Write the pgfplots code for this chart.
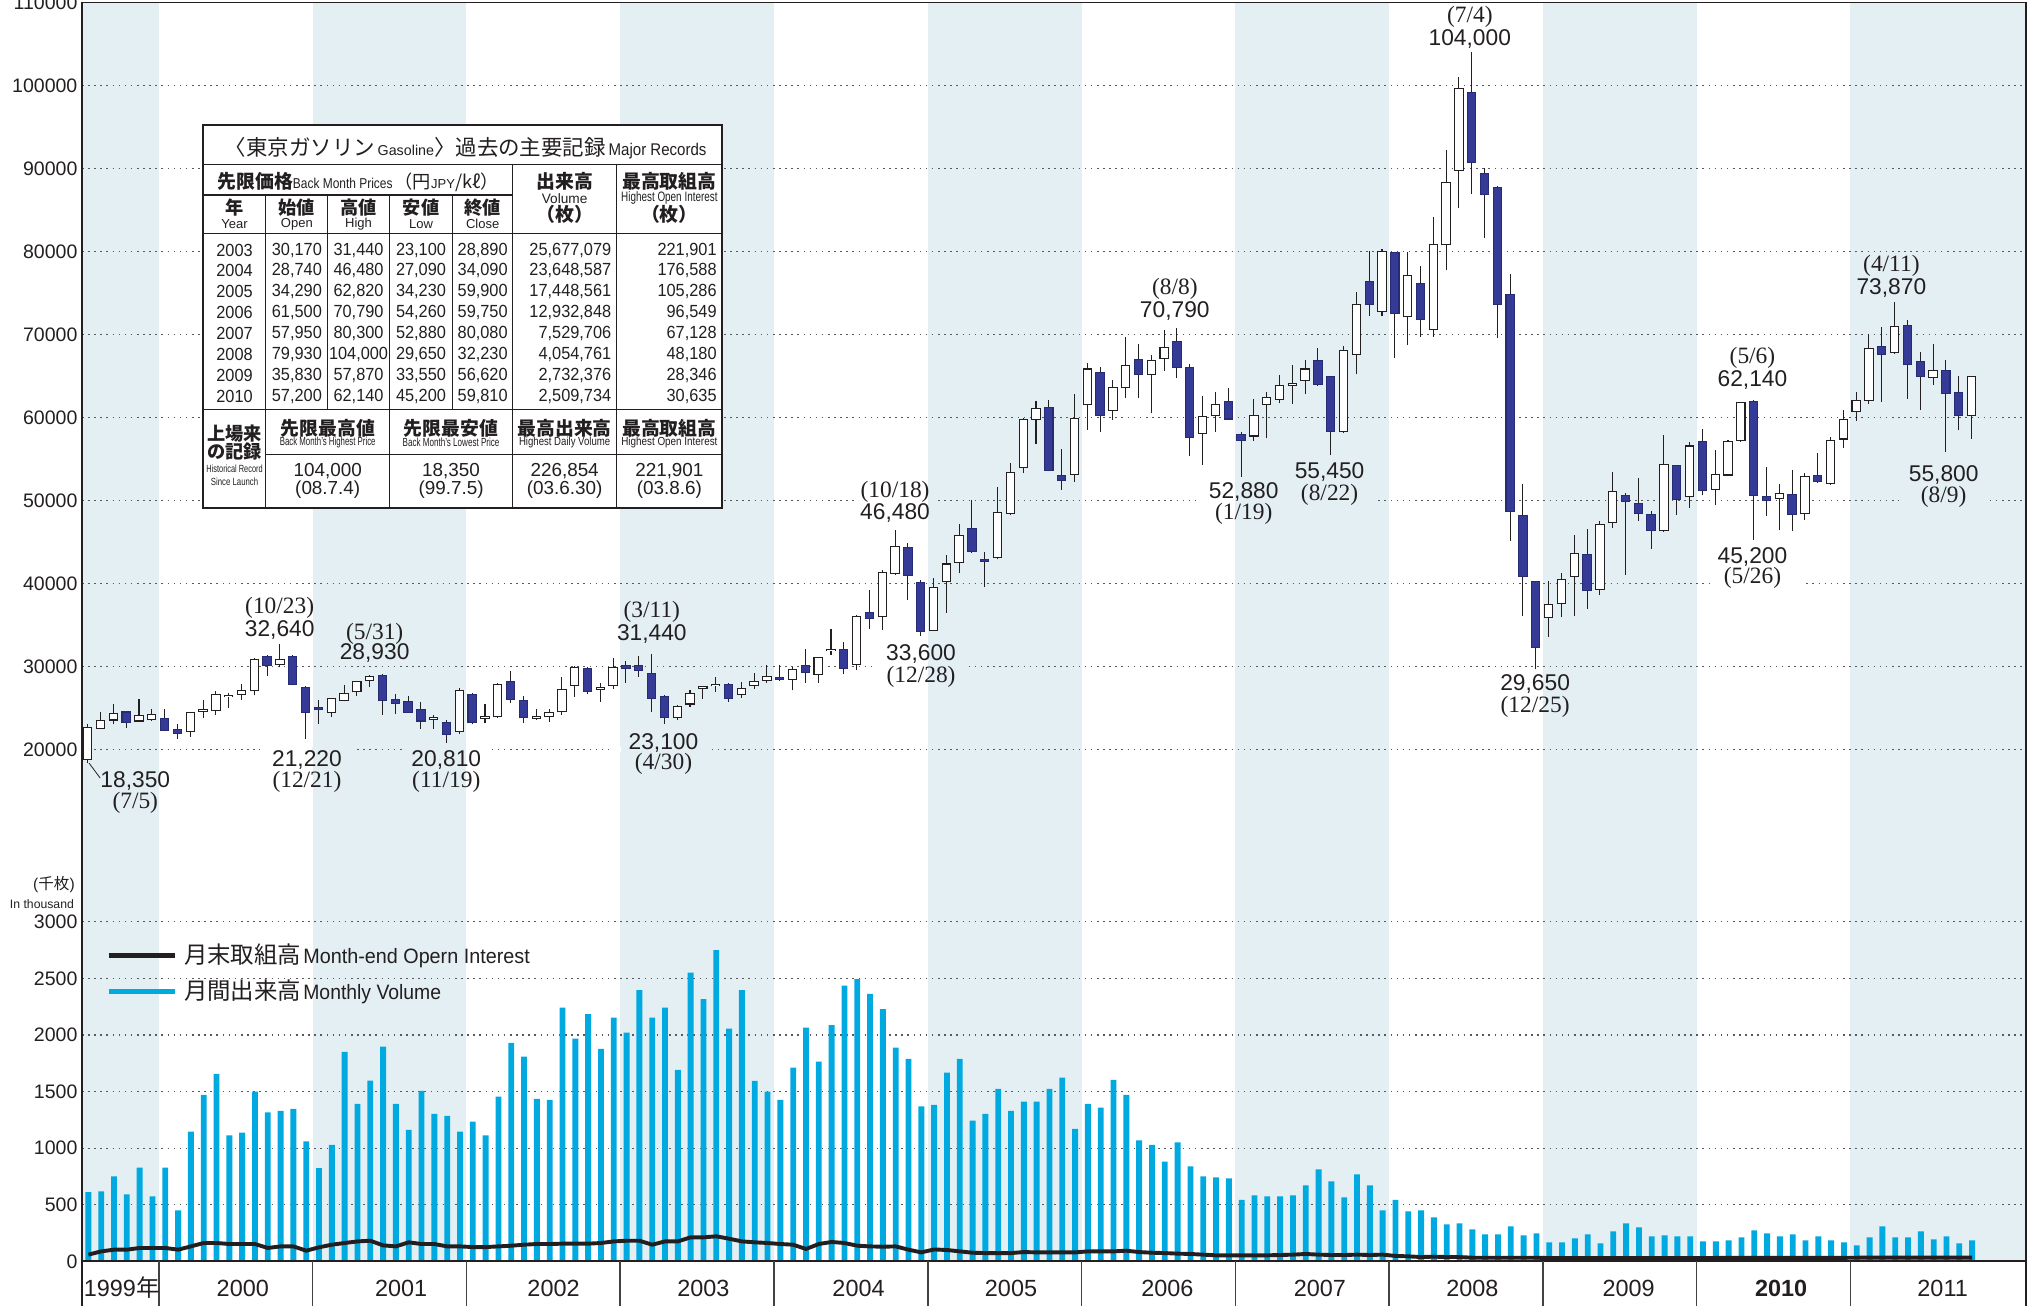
\documentclass[border=0pt]{standalone}
\usepackage{fontspec}
\setmainfont{Liberation Sans}
\newfontfamily\jp{Noto Sans CJK JP}
\newfontfamily\dserif{Liberation Serif}
\usepackage{graphicx}
\usepackage{pgfplots}
\pgfplotsset{compat=1.18}
\usepackage{pgfplotstable}

\definecolor{band}{HTML}{E3EFF3}
\definecolor{candleblue}{HTML}{343A96}
\definecolor{candleedge}{HTML}{262C74}
\definecolor{volcyan}{HTML}{00A9E0}
\definecolor{ink}{HTML}{231F20}

\newcommand{\fs}[1]{\fontsize{#1}{#1}\selectfont}
\newcommand{\sx}[2]{\scalebox{#1}[1]{#2}}

% monthly candles, m = months since Jul 1999
\pgfplotstableread{
m o h l c
0 18700 23100 18350 22750
1 22450 24550 22400 23550
2 23470 25480 23020 24430
4 23350 26050 23270 24150
5 23550 24840 23470 24230
8 22140 24500 21530 24470
9 24500 25970 23750 24850
10 24560 27060 24150 26650
11 26250 26770 24960 26600
12 26570 27860 25890 27140
13 26970 31000 26490 30930
15 30120 32640 29880 30930
19 24430 26200 23950 26170
20 25850 27780 25770 26770
21 26900 28200 26370 28190
22 28200 28930 27500 28850
27 23500 24150 22460 23850
29 22140 27400 21900 27140
31 23650 25520 23120 24000
32 23840 28000 23720 27920
35 23650 24920 23520 24000
36 23840 24920 23320 24520
37 24440 28720 24120 27240
38 27600 30000 26320 29920
40 27200 28000 25720 27520
41 27600 31040 27320 29920
46 23800 25300 23500 25240
47 25400 27120 25120 26840
48 27300 27650 26120 27650
49 27600 28720 26920 27920
51 26520 28120 26240 27400
52 27600 29200 27320 28240
53 28240 30120 28000 28890
55 28320 29920 27090 29640
57 29000 31150 28000 31120
58 31800 34520 31320 32150
60 30200 36200 29600 36120
62 35920 41600 34400 41400
63 41120 46480 41000 44480
66 34290 40600 34230 39520
67 40120 43480 36480 42400
68 42480 47200 41200 45800
71 43000 51600 42900 48600
72 48400 54500 48300 53400
73 53900 59900 53300 59800
74 59700 62000 56800 61100
77 53100 62820 52200 59900
78 61500 66600 58500 65900
80 60760 64500 59700 63700
81 63500 69700 62300 66300
83 65100 67500 60500 66900
84 67050 70590 65640 68500
87 57990 62620 54260 60170
88 60170 63040 58200 61630
91 57700 62260 57200 60330
92 61500 63040 57470 62420
93 62150 65120 61730 63920
94 63800 66270 61630 64150
95 64340 66940 62780 65900
98 58200 68610 58100 68090
99 67570 75110 65220 73710
101 72670 80300 72250 80080
103 72150 79950 68760 77200
105 70590 84120 69700 80890
106 80740 92190 77720 88390
107 89740 101040 85270 99740
114 35830 40240 33550 37530
115 37520 41260 35910 40570
116 40730 45880 36030 43670
118 39250 47490 38640 47210
119 47290 53440 46680 51110
123 46280 57870 46200 54400
125 50380 57050 49100 56620
127 51310 56130 49420 53200
128 53000 57340 52900 57140
129 57140 61900 57100 61840
132 50180 52030 46480 50900
134 48370 53320 47690 52920
136 51990 57660 51900 57260
137 57340 60950 56330 59810
138 60670 63080 59590 62080
139 61990 70010 61670 68410
141 67770 73870 67700 70980
144 64800 68890 63960 65760
147 60150 64960 57460 64960
}\up

\pgfplotstableread{
m o h l c
3 24560 24600 22540 23220
6 23750 24840 22200 22220
7 22460 23060 21250 21850
14 31210 31410 28790 30000
16 31290 31410 27700 27780
17 27500 27580 21220 24430
18 25080 25970 23020 24680
23 28990 29050 24150 25770
24 26050 26650 24270 25480
25 25770 26370 24400 24430
26 24840 25690 22460 23350
28 23350 23550 20810 21730
30 26720 26800 23000 23120
33 28200 29400 25600 25920
34 25920 26440 23120 23720
39 29840 29900 26720 26920
42 30170 30600 28000 29640
43 30120 31200 28720 29400
44 29200 31440 24520 26120
45 26440 26500 23100 23720
50 27920 28000 25720 26120
54 28740 30120 28240 28300
56 30120 32040 28000 29240
59 32120 32880 29120 29680
61 36600 39200 34480 35680
64 44400 44880 38000 40920
65 40200 40400 33600 34090
69 46680 50000 43700 43800
70 42900 43800 39600 42550
75 61300 62080 53500 53600
76 53100 56200 51300 52300
79 65500 66080 58200 60160
82 67100 68800 62300 65100
85 69180 70790 64750 66000
86 66050 66420 55330 57470
89 62000 63560 59700 59750
90 57950 58300 52880 57200
96 66940 68350 63800 63920
97 64960 65000 55450 58200
100 76470 80060 72250 73550
102 79930 80000 67200 72410
104 76210 78290 69700 71780
108 99220 104000 86990 90630
109 89430 90110 81620 86830
110 87770 87930 69550 73550
111 74910 77250 45080 48570
112 48300 51950 36120 40800
113 40240 40300 29650 32230
117 43550 46600 36920 39050
120 50700 50900 41060 49780
121 49700 52710 47490 48370
122 48410 48700 44190 46360
124 54240 54300 48290 50100
126 57200 58620 50620 51110
130 62000 62140 45200 50500
131 50500 54040 48090 49900
133 50780 53720 46360 48290
135 53120 55730 52100 52230
140 68610 70900 61870 67490
142 71100 71700 62280 66290
143 66810 67890 60950 64880
145 65680 66970 55800 62880
146 63080 65000 58470 60150
}\dn

% monthly volume and month-end open interest (thousand)
\pgfplotstableread{
m v oi
0 612 59
1 618 88
2 750 103
3 591 103
4 829 118
5 573 118
6 829 118
7 450 103
8 1147 132
9 1471 162
10 1656 162
11 1112 153
12 1138 153
13 1500 153
14 1315 118
15 1329 132
16 1347 132
17 1059 94
18 824 124
19 1029 147
20 1850 162
21 1391 176
22 1597 182
23 1897 141
24 1391 132
25 1162 168
26 1506 153
27 1303 153
28 1285 132
29 1147 132
30 1235 126
31 1112 126
32 1456 132
33 1929 138
34 1809 147
35 1435 153
36 1426 153
37 2241 156
38 1968 156
39 2185 156
40 1876 162
41 2153 176
42 2020 182
43 2397 182
44 2153 147
45 2241 176
46 1691 176
47 2550 212
48 2317 212
49 2750 221
50 2056 200
51 2397 176
52 1594 168
53 1500 162
54 1426 153
55 1712 147
56 2065 109
57 1765 153
58 2088 171
59 2435 162
60 2494 138
61 2362 132
62 2229 129
63 1888 132
64 1788 103
65 1368 79
66 1382 105
67 1668 100
68 1788 88
69 1244 76
70 1303 73
71 1523 73
72 1329 73
73 1412 82
74 1412 79
75 1523 79
76 1623 79
77 1171 79
78 1391 88
79 1359 88
80 1603 88
81 1471 94
82 1068 82
83 1029 76
84 882 73
85 1050 68
86 838 65
87 750 59
88 741 53
89 732 53
90 544 53
91 582 53
92 573 53
93 573 56
94 582 59
95 671 65
96 812 59
97 706 56
98 565 56
99 768 59
100 671 56
101 450 59
102 544 48
103 441 44
104 450 38
105 388 41
106 326 38
107 335 38
108 282 32
109 238 32
110 238 32
111 309 32
112 229 32
113 247 32
114 168 29
115 168 29
116 203 29
117 238 29
118 159 28
119 265 28
120 335 29
121 300 29
122 221 29
123 229 29
124 221 29
125 221 29
126 176 29
127 176 30
128 185 30
129 212 30
130 274 30
131 247 30
132 221 30
133 238 30
134 185 31
135 221 31
136 185 31
137 168 31
138 141 32
139 212 33
140 309 33
141 212 33
142 212 33
143 265 33
144 194 33
145 221 33
146 159 33
147 185 33
}\vol

\newcommand{\trow}[8]{%
  \node[font=\fs{13.5}] at (180.3,#1) {\sx{0.93}{#2}};
  \node[font=\fs{13.5}] at (228.2,#1) {\sx{0.93}{#3}};
  \node[font=\fs{13.5}] at (275.6,#1) {\sx{0.93}{#4}};
  \node[font=\fs{13.5}] at (323.6,#1) {\sx{0.93}{#5}};
  \node[font=\fs{13.5}] at (371.0,#1) {\sx{0.93}{#6}};
  \node[font=\fs{13.5}, anchor=east] at (470.0,#1) {\sx{0.93}{#7}};
  \node[font=\fs{13.5}, anchor=east] at (551.0,#1) {\sx{0.93}{#8}};
}
% gap in a grid line behind a label: x from, x to, price, colour
\newcommand{\gap}[4]{\fill[#4] (axis cs:#1,#3-320) rectangle (axis cs:#2,#3+320);}

\tikzset{
  num/.style={font=\fs{17.5}, text=ink, inner sep=0pt},
  dat/.style={font=\dserif\fs{18}, text=ink, inner sep=0pt},
}

\begin{document}
\begin{tikzpicture}
\pgfplotsset{
  panel/.style={
    scale only axis, width=1494pt, xmin=0, xmax=151.68, xtick=\empty,
    axis line style={draw=none}, major tick length=0pt, tick style={draw=none},
    ymajorgrids, grid style={line width=0.9pt, black!65, dash pattern=on 1.2pt off 3.5pt},
    yticklabel style={font=\fs{15}, text=ink},
    /pgf/number format/assume math mode=true, /pgf/number format/1000 sep={},
    /pgf/number format/fixed, /pgf/number format/precision=0,
    scaled y ticks=false, set layers,
  },
  wick/.style={draw=none, mark=none, error bars/.cd, y dir=plus, y explicit, error mark=none,
    error bar style={draw=ink, line width=0.8pt}},
}

% ---------- price panel ----------
\begin{axis}[panel, at={(63pt,300.5pt)}, anchor=south west, height=701.5pt,
  ymin=0, ymax=110000, ytick={20000,30000,...,110000}]
\addplot[on layer=axis background, fill=band, draw=none] coordinates {(0,0) (6,0) (6,110000) (0,110000)};
\addplot[on layer=axis background, fill=band, draw=none] coordinates {(18,0) (30,0) (30,110000) (18,110000)};
\addplot[on layer=axis background, fill=band, draw=none] coordinates {(42,0) (54,0) (54,110000) (42,110000)};
\addplot[on layer=axis background, fill=band, draw=none] coordinates {(66,0) (78,0) (78,110000) (66,110000)};
\addplot[on layer=axis background, fill=band, draw=none] coordinates {(90,0) (102,0) (102,110000) (90,110000)};
\addplot[on layer=axis background, fill=band, draw=none] coordinates {(114,0) (126,0) (126,110000) (114,110000)};
\addplot[on layer=axis background, fill=band, draw=none] coordinates {(138,0) (151.68,0) (151.68,110000) (138,110000)};

% grid gaps behind the record labels
\gap{13.91}{17.97}{20000}{white} \gap{17.97}{21.22}{20000}{band}
\gap{25.08}{29.95}{20000}{band}  \gap{29.95}{31.68}{20000}{white}
\gap{41.52}{42.03}{20000}{white} \gap{42.03}{48.93}{20000}{band}
\gap{62.03}{66.00}{30000}{white} \gap{66.00}{69.04}{30000}{band}
\gap{127.1}{134.3}{40000}{white}
\gap{60.60}{66.00}{50000}{white} \gap{66.00}{66.60}{50000}{band}
\gap{87.00}{90.00}{50000}{white} \gap{90.00}{101.1}{50000}{band}
\gap{141.8}{148.5}{50000}{band}

% wicks
\addplot[wick] table[x expr=\thisrow{m}+0.45, y=l, y error expr=\thisrow{h}-\thisrow{l}] {\up};
\addplot[wick] table[x expr=\thisrow{m}+0.45, y=l, y error expr=\thisrow{h}-\thisrow{l}] {\dn};
% bodies: outline then fill
\addplot[draw=none, mark=none, error bars/.cd, y dir=plus, y explicit, error mark=none,
  error bar style={draw=ink, line width=7.2pt}]
  table[x expr=\thisrow{m}+0.45, y expr={min(\thisrow{o},\thisrow{c})}, y error expr={abs(\thisrow{c}-\thisrow{o})}] {\up};
\addplot[draw=none, mark=none, error bars/.cd, y dir=plus, y explicit, error mark=none,
  error bar style={draw=white, line width=5.6pt, shorten <=0.8pt, shorten >=0.8pt}]
  table[x expr=\thisrow{m}+0.45, y expr={min(\thisrow{o},\thisrow{c})}, y error expr={abs(\thisrow{c}-\thisrow{o})}] {\up};
\addplot[draw=none, mark=none, error bars/.cd, y dir=plus, y explicit, error mark=none,
  error bar style={draw=candleedge, line width=7.2pt}]
  table[x expr=\thisrow{m}+0.45, y expr={min(\thisrow{o},\thisrow{c})}, y error expr={abs(\thisrow{c}-\thisrow{o})}] {\dn};
\addplot[draw=none, mark=none, error bars/.cd, y dir=plus, y explicit, error mark=none,
  error bar style={draw=candleblue, line width=5.6pt, shorten <=0.8pt, shorten >=0.8pt}]
  table[x expr=\thisrow{m}+0.45, y expr={min(\thisrow{o},\thisrow{c})}, y error expr={abs(\thisrow{c}-\thisrow{o})}] {\dn};

% record annotations
\draw[ink, line width=0.6pt] (axis cs:0.55,18350) -- (axis cs:1.42,16540);
\node[num] at (axis cs:4.16,16230) {18,350};   \node[dat] at (axis cs:4.16,13560) {(7/5)};
\node[dat] at (axis cs:15.43,37080) {(10/23)}; \node[num] at (axis cs:15.43,34420) {32,640};
\node[num] at (axis cs:17.56,18740) {21,220};  \node[dat] at (axis cs:17.56,16070) {(12/21)};
\node[dat] at (axis cs:22.84,33950) {(5/31)};  \node[num] at (axis cs:22.84,31590) {28,930};
\node[num] at (axis cs:28.43,18740) {20,810};  \node[dat] at (axis cs:28.43,16070) {(11/19)};
\node[dat] at (axis cs:44.47,36610) {(3/11)};  \node[num] at (axis cs:44.47,33950) {31,440};
\node[num] at (axis cs:45.38,20780) {23,100};  \node[dat] at (axis cs:45.38,18270) {(4/30)};
\node[dat] at (axis cs:63.45,51040) {(10/18)}; \node[num] at (axis cs:63.45,48530) {46,480};
\node[num] at (axis cs:65.48,31440) {33,600};  \node[dat] at (axis cs:65.48,28770) {(12/28)};
\node[dat] at (axis cs:85.28,75500) {(8/8)};   \node[num] at (axis cs:85.28,72830) {70,790};
\node[num] at (axis cs:90.66,51040) {52,880};  \node[dat] at (axis cs:90.66,48370) {(1/19)};
\node[num] at (axis cs:97.36,53390) {55,450};  \node[dat] at (axis cs:97.36,50650) {(8/22)};
\node[dat] at (axis cs:108.3,108270) {(7/4)};  \node[num] at (axis cs:108.3,105600) {104,000};
\node[num] at (axis cs:113.4,27830) {29,650};  \node[dat] at (axis cs:113.4,25170) {(12/25)};
\node[dat] at (axis cs:130.36,67190) {(5/6)};  \node[num] at (axis cs:130.36,64520) {62,140};
\node[num] at (axis cs:130.36,43200) {45,200}; \node[dat] at (axis cs:130.36,40690) {(5/26)};
\node[dat] at (axis cs:141.2,78320) {(4/11)};  \node[num] at (axis cs:141.2,75660) {73,870};
\node[num] at (axis cs:145.28,53080) {55,800}; \node[dat] at (axis cs:145.28,50410) {(8/9)};
\end{axis}

% ---------- volume panel ----------
\begin{axis}[panel, at={(63pt,0pt)}, anchor=south west, height=300.5pt,
  ymin=-396.6, ymax=3057.5, ytick={0,500,...,3000}]
\addplot[on layer=axis background, fill=band, draw=none] coordinates {(0,0) (6,0) (6,3057.5) (0,3057.5)};
\addplot[on layer=axis background, fill=band, draw=none] coordinates {(18,0) (30,0) (30,3057.5) (18,3057.5)};
\addplot[on layer=axis background, fill=band, draw=none] coordinates {(42,0) (54,0) (54,3057.5) (42,3057.5)};
\addplot[on layer=axis background, fill=band, draw=none] coordinates {(66,0) (78,0) (78,3057.5) (66,3057.5)};
\addplot[on layer=axis background, fill=band, draw=none] coordinates {(90,0) (102,0) (102,3057.5) (90,3057.5)};
\addplot[on layer=axis background, fill=band, draw=none] coordinates {(114,0) (126,0) (126,3057.5) (114,3057.5)};
\addplot[on layer=axis background, fill=band, draw=none] coordinates {(138,0) (151.68,0) (151.68,3057.5) (138,3057.5)};

\addplot[ybar, bar width=4.5pt, fill=volcyan, draw=none] table[x expr=\thisrow{m}+0.5, y=v] {\vol};
\addplot[ink, line width=3pt, line join=round, mark=none] table[x expr=\thisrow{m}+0.5, y=oi] {\vol};

\draw[ink, line width=1.4pt] (axis cs:0,0) -- (axis cs:151.68,0);
\pgfplotsinvokeforeach{6,18,...,138}{
  \draw[ink!85, line width=1.2pt] (axis cs:#1,0) -- (axis cs:#1,-396.6);
}
\node[font=\fs{18}, text=ink, inner sep=0pt] at (axis cs:3.1,-236) {1999{\jp 年}};
\node[font=\fs{18}, text=ink, inner sep=0pt] at (axis cs:12.55,-236) {2000};
\node[font=\fs{18}, text=ink, inner sep=0pt] at (axis cs:24.9,-236) {2001};
\node[font=\fs{18}, text=ink, inner sep=0pt] at (axis cs:36.8,-236) {2002};
\node[font=\fs{18}, text=ink, inner sep=0pt] at (axis cs:48.5,-236) {2003};
\node[font=\fs{18}, text=ink, inner sep=0pt] at (axis cs:60.6,-236) {2004};
\node[font=\fs{18}, text=ink, inner sep=0pt] at (axis cs:72.5,-236) {2005};
\node[font=\fs{18}, text=ink, inner sep=0pt] at (axis cs:84.7,-236) {2006};
\node[font=\fs{18}, text=ink, inner sep=0pt] at (axis cs:96.6,-236) {2007};
\node[font=\fs{18}, text=ink, inner sep=0pt] at (axis cs:108.5,-236) {2008};
\node[font=\fs{18}, text=ink, inner sep=0pt] at (axis cs:120.7,-236) {2009};
\node[font=\fs{18}\bfseries, text=ink, inner sep=0pt] at (axis cs:132.6,-236) {2010};
\node[font=\fs{18}, text=ink, inner sep=0pt] at (axis cs:145.2,-236) {2011};

% legend
\draw[ink, line width=4pt] (axis cs:2.09,2700) -- (axis cs:7.25,2700);
\draw[volcyan, line width=3.6pt] (axis cs:2.09,2383) -- (axis cs:7.25,2383);
\node[anchor=west, inner sep=0pt, text=ink] at (axis cs:7.95,2700)
  {{\jp\fs{18}月末取組高}\,{\fs{16}\sx{0.95}{Month-end Opern Interest}}};
\node[anchor=west, inner sep=0pt, text=ink] at (axis cs:7.95,2383)
  {{\jp\fs{18}月間出来高}\,{\fs{16}\sx{0.93}{Monthly Volume}}};
\end{axis}

% ---------- frame, unit label and records table ----------
\begin{scope}[shift={(0pt,1004pt)}, x=1pt, y=-1pt, every node/.style={inner sep=0pt, text=ink}]
\draw[ink, line width=1.3pt] (63,1004) -- (63,2) -- (1557,2) -- (1557,1004);
\node[anchor=east, font=\fs{12}] at (57.7,680) {({\jp 千枚})};
\node[anchor=east, font=\fs{9.4}] at (57,695) {In thousand};

\fill[white] (156.3,96.1) rectangle (555.2,390.2);
\draw[ink, line width=0.8pt]
  (156.3,126.8) -- (555.2,126.8)
  (156.3,149.9) -- (394.1,149.9)
  (156.3,179.4) -- (555.2,179.4)
  (156.3,315.1) -- (555.2,315.1)
  (204.4,349.7) -- (555.2,349.7)
  (204.4,149.9) -- (204.4,390.2)
  (251.9,149.9) -- (251.9,315.1)
  (299.3,149.9) -- (299.3,390.2)
  (347.8,149.9) -- (347.8,315.1)
  (394.1,126.8) -- (394.1,390.2)
  (473.9,126.8) -- (473.9,390.2);
\draw[ink, line width=1.5pt] (156.3,96.1) rectangle (555.2,390.2);

\node at (358,114) {{\jp\fs{16.5}〈東京ガソリン}{\fs{11}\,Gasoline}{\jp\fs{16.5}〉過去の主要記録}{\fs{13}\,\sx{0.89}{Major Records}}};
\node[anchor=west] at (167,139.6) {{\jp\bfseries\fs{14.5}先限価格}{\fs{11}\sx{0.835}{Back Month Prices}}\,{\jp\fs{14}（円}{\fs{10}JPY}{\jp\fs{14}/kℓ）}};
\node[font=\jp\bfseries\fs{14.5}] at (434,139.6) {出来高};
\node[font=\fs{10.5}] at (434,152.4) {Volume};
\node[font=\jp\bfseries\fs{14.5}] at (434,164.5) {（枚）};
\node[font=\jp\bfseries\fs{14.5}] at (514.5,139.6) {最高取組高};
\node[font=\fs{10.5}] at (514.5,152.4) {\sx{0.725}{Highest Open Interest}};
\node[font=\jp\bfseries\fs{14.5}] at (514.5,164.5) {（枚）};

\node[font=\jp\bfseries\fs{14}] at (180.3,159.4) {年};
\node[font=\jp\bfseries\fs{14}] at (228.2,159.4) {始値};
\node[font=\jp\bfseries\fs{14}] at (275.6,159.4) {高値};
\node[font=\jp\bfseries\fs{14}] at (323.6,159.4) {安値};
\node[font=\jp\bfseries\fs{14}] at (371.0,159.4) {終値};
\node[font=\fs{10}] at (180.3,172.2) {Year};
\node[font=\fs{10}] at (228.2,172.2) {Open};
\node[font=\fs{10}] at (275.6,172.2) {High};
\node[font=\fs{10}] at (323.6,172.2) {Low};
\node[font=\fs{10}] at (371.0,172.2) {Close};

\trow{192.2}{2003}{30,170}{31,440}{23,100}{28,890}{25,677,079}{221,901}
\trow{208.2}{2004}{28,740}{46,480}{27,090}{34,090}{23,648,587}{176,588}
\trow{224.3}{2005}{34,290}{62,820}{34,230}{59,900}{17,448,561}{105,286}
\trow{240.3}{2006}{61,500}{70,790}{54,260}{59,750}{12,932,848}{96,549}
\trow{256.3}{2007}{57,950}{80,300}{52,880}{80,080}{7,529,706}{67,128}
\trow{272.4}{2008}{79,930}{104,000}{29,650}{32,230}{4,054,761}{48,180}
\trow{288.4}{2009}{35,830}{57,870}{33,550}{56,620}{2,732,376}{28,346}
\trow{304.4}{2010}{57,200}{62,140}{45,200}{59,810}{2,509,734}{30,635}

\node[font=\jp\bfseries\fs{14}] at (180.3,333) {上場来};
\node[font=\jp\bfseries\fs{14}] at (180.3,347.2) {の記録};
\node[font=\fs{8}] at (180.3,360) {\sx{0.71}{Historical Record}};
\node[font=\fs{8}] at (180.3,370.2) {\sx{0.75}{Since Launch}};

\node[font=\jp\bfseries\fs{14.5}] at (251.9,329.2) {先限最高値};
\node[font=\jp\bfseries\fs{14.5}] at (346.7,329.2) {先限最安値};
\node[font=\jp\bfseries\fs{14.5}] at (434,329.2) {最高出来高};
\node[font=\jp\bfseries\fs{14.5}] at (514.5,329.2) {最高取組高};
\node[font=\fs{9}] at (251.9,340.2) {\sx{0.67}{Back Month's Highest Price}};
\node[font=\fs{9}] at (346.7,340.2) {\sx{0.69}{Back Month's Lowest Price}};
\node[font=\fs{9}] at (434,340.2) {\sx{0.82}{Highest Daily Volume}};
\node[font=\fs{9}] at (514.5,340.2) {\sx{0.845}{Highest Open Interest}};

\node[font=\fs{14.5}] at (251.9,362.5) {104,000};
\node[font=\fs{14.5}] at (346.7,362.5) {18,350};
\node[font=\fs{14.5}] at (434,362.5) {226,854};
\node[font=\fs{14.5}] at (514.5,362.5) {221,901};
\node[font=\fs{14.5}] at (251.9,376.6) {(08.7.4)};
\node[font=\fs{14.5}] at (346.7,376.6) {(99.7.5)};
\node[font=\fs{14.5}] at (434,376.6) {(03.6.30)};
\node[font=\fs{14.5}] at (514.5,376.6) {(03.8.6)};
\end{scope}

\pgfresetboundingbox
\useasboundingbox (0,0) rectangle (1568pt,1004pt);
\end{tikzpicture}
\end{document}
